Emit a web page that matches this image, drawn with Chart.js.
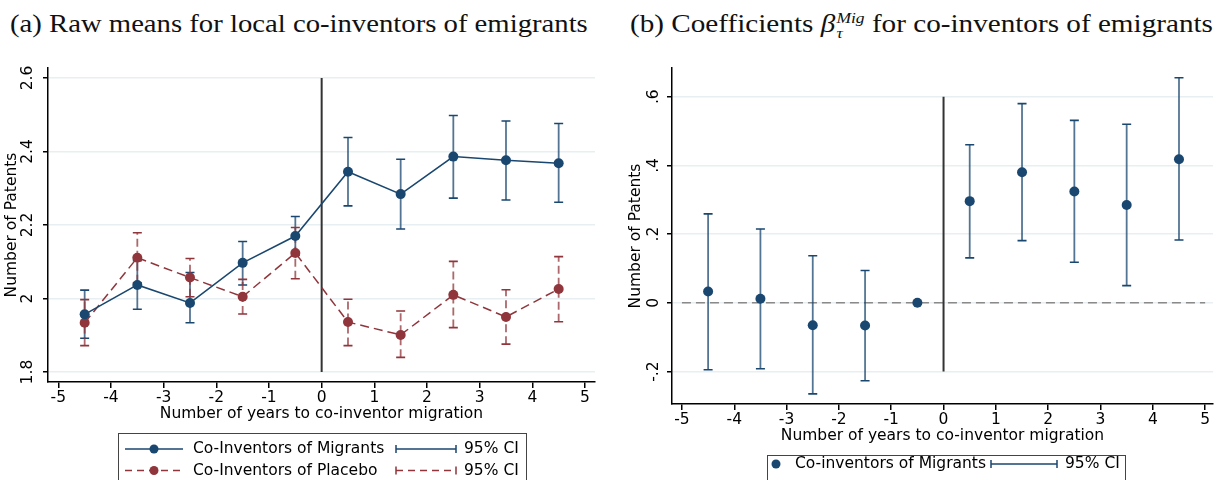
<!DOCTYPE html>
<html lang="en">
  <head>
    <meta charset="UTF-8" />
    <title>Co-inventors of emigrants</title>
    <script src="https://cdn.jsdelivr.net/npm/chart.js"></script>
    <style>
      body { margin: 0; background: #fff; }
      .wrap { position: relative; width: 1218px; height: 480px; overflow: hidden; }
      canvas { position: absolute; top: 0; }
      .ttl {
        position: absolute; top: 11px; white-space: nowrap;
        font-family: "Liberation Serif", serif; font-size: 25px; line-height: 1;
        color: #111; transform-origin: left top;
      }
      .ss { display: inline-flex; flex-direction: column; font-size: 15px; line-height: 15px; vertical-align: 9px; margin-left: 1px; }
    </style>
  </head>
  <body>
    <div class="wrap">
      <div class="ttl" id="ta" style="left:10px">(a) Raw means for local co-inventors of emigrants</div>
      <div class="ttl" id="tb" style="left:630px">(b) Coefficients <i>β</i><span class="ss"><i>Mig</i><i>τ</i></span> for co-inventors of emigrants</div>
      <canvas id="chartA" width="609" height="480" style="left:0"></canvas>
      <canvas id="chartB" width="609" height="480" style="left:609px"></canvas>
    </div>

    <script>
      "use strict";
      // years relative to co-inventor migration
      const years = [-4.5, -3.5, -2.5, -1.5, -0.5, 0.5, 1.5, 2.5, 3.5, 4.5];
      const xTicks = [-5, -4, -3, -2, -1, 0, 1, 2, 3, 4, 5];

      // panel (a): raw means
      const migMean = [1.957, 2.037, 1.988, 2.097, 2.170, 2.345, 2.284, 2.386, 2.376, 2.368];
      const migLo = [1.892, 1.971, 1.934, 2.037, 2.117, 2.252, 2.189, 2.273, 2.268, 2.262];
      const migHi = [2.023, 2.103, 2.071, 2.155, 2.223, 2.438, 2.379, 2.498, 2.483, 2.476];
      const plaMean = [1.934, 2.111, 2.057, 2.005, 2.124, 1.936, 1.901, 2.010, 1.950, 2.026];
      const plaLo = [1.872, 2.043, 2.005, 1.958, 2.054, 1.872, 1.840, 1.921, 1.876, 1.937];
      const plaHi = [1.997, 2.179, 2.109, 2.052, 2.193, 1.998, 1.966, 2.101, 2.024, 2.114];
      const aTicks = [1.8, 2.0, 2.2, 2.4, 2.6];
      const aTickLabels = ["1.8", "2", "2.2", "2.4", "2.6"];

      // panel (b): coefficients (reference year -0.5 has no CI)
      const coefMean = [0.033, 0.012, -0.065, -0.066, 0, 0.296, 0.380, 0.324, 0.285, 0.418];
      const coefLo = [-0.195, -0.192, -0.265, -0.227, null, 0.131, 0.181, 0.118, 0.050, 0.183];
      const coefHi = [0.259, 0.215, 0.137, 0.094, null, 0.460, 0.580, 0.531, 0.520, 0.655];
      const bTicks = [-0.2, 0, 0.2, 0.4, 0.6];
      const bTickLabels = ["-.2", "0", ".2", ".4", ".6"];

      const NAVY = "#1a476f";
      const MAROON = "#90353b";
      const FONT = '15.5px "DejaVu Sans"';
      const XTITLE = "Number of years to co-inventor migration";

      const pts = (xs, ys) => xs.map((v, i) => ({ x: v, y: ys[i] }));

      function makeDecor(cfg) {
        return {
          id: "decor",
          beforeDatasetsDraw(chart) {
            const { ctx, scales: { x, y } } = chart;
            ctx.save();
            // reference line at zero on the y axis (panel b)
            if (cfg.hline !== undefined) {
              ctx.strokeStyle = "#8a8a8a";
              ctx.lineWidth = 1.5;
              ctx.setLineDash([9, 5]);
              ctx.beginPath();
              ctx.moveTo(x.getPixelForValue(xTicks[0]), y.getPixelForValue(cfg.hline));
              ctx.lineTo(x.getPixelForValue(xTicks[xTicks.length - 1]), y.getPixelForValue(cfg.hline));
              ctx.stroke();
            }
            // event line at year 0
            ctx.setLineDash([]);
            ctx.strokeStyle = "#333";
            ctx.lineWidth = 2;
            ctx.beginPath();
            ctx.moveTo(x.getPixelForValue(0), y.getPixelForValue(cfg.yTicks[0]));
            ctx.lineTo(x.getPixelForValue(0), y.getPixelForValue(cfg.yTicks[cfg.yTicks.length - 1]));
            ctx.stroke();
            // confidence intervals
            cfg.ci.forEach((c) => {
              years.forEach((yr, i) => {
                if (c.lo[i] === null) return;
                const px = x.getPixelForValue(yr);
                const p0 = y.getPixelForValue(c.lo[i]);
                const p1 = y.getPixelForValue(c.hi[i]);
                ctx.setLineDash(c.dash);
                ctx.strokeStyle = c.light;
                ctx.lineWidth = 1.8;
                ctx.beginPath();
                ctx.moveTo(px, p0);
                ctx.lineTo(px, p1);
                ctx.stroke();
                ctx.setLineDash([]);
                ctx.strokeStyle = c.color;
                ctx.lineWidth = 1.6;
                ctx.beginPath();
                ctx.moveTo(px - 4.5, p0);
                ctx.lineTo(px + 4.5, p0);
                ctx.moveTo(px - 4.5, p1);
                ctx.lineTo(px + 4.5, p1);
                ctx.stroke();
              });
            });
            ctx.restore();
          },
          afterDraw(chart) {
            const { ctx, chartArea: ca, scales: { x, y } } = chart;
            ctx.save();
            ctx.fillStyle = "#000";
            ctx.font = FONT;
            // y tick labels, rotated like Stata
            cfg.yTicks.forEach((v, i) => {
              ctx.save();
              ctx.translate(ca.left - cfg.yLabOff, y.getPixelForValue(v));
              ctx.rotate(-Math.PI / 2);
              ctx.textAlign = "center";
              ctx.textBaseline = "middle";
              ctx.fillText(cfg.yLabels[i], 0, 0);
              ctx.restore();
            });
            // y title
            ctx.save();
            ctx.translate(ca.left - 36, (ca.top + ca.bottom) / 2);
            ctx.rotate(-Math.PI / 2);
            ctx.textAlign = "center";
            ctx.textBaseline = "middle";
            ctx.fillText("Number of Patents", 0, 0);
            ctx.restore();
            // x tick labels and title
            ctx.textAlign = "center";
            ctx.textBaseline = "middle";
            xTicks.forEach((v) => {
              ctx.fillText(String(v), x.getPixelForValue(v), ca.bottom + 16);
            });
            ctx.fillText(XTITLE, (ca.left + ca.right) / 2, ca.bottom + 32);
            // legend
            const L = cfg.legend;
            ctx.strokeStyle = "#444";
            ctx.lineWidth = 1;
            ctx.strokeRect(L.box[0] + 0.5, L.box[1] + 0.5, L.box[2] - L.box[0], 80);
            L.rows.forEach((r) => {
              ctx.strokeStyle = r.color;
              ctx.fillStyle = r.color;
              ctx.lineWidth = 1.5;
              ctx.setLineDash(r.dash);
              if (r.line) {
                ctx.beginPath();
                ctx.moveTo(r.line[0], r.y);
                ctx.lineTo(r.line[1], r.y);
                ctx.stroke();
              }
              ctx.beginPath();
              ctx.arc(r.marker, r.y, 4.5, 0, Math.PI * 2);
              ctx.fill();
              ctx.beginPath();
              ctx.moveTo(r.ci[0], r.y);
              ctx.lineTo(r.ci[1], r.y);
              ctx.stroke();
              ctx.setLineDash([]);
              ctx.beginPath();
              ctx.moveTo(r.ci[0], r.y - 4);
              ctx.lineTo(r.ci[0], r.y + 4);
              ctx.moveTo(r.ci[1], r.y - 4);
              ctx.lineTo(r.ci[1], r.y + 4);
              ctx.stroke();
              ctx.fillStyle = "#000";
              ctx.textAlign = "left";
              ctx.fillText(r.label, r.text, r.y);
              ctx.fillText("95% CI", r.ci[1] + 8, r.y);
            });
            ctx.restore();
          },
        };
      }

      function scalesFor(xmin, xmax, ymin, ymax, yTicks) {
        return {
          x: {
            type: "linear",
            min: xmin,
            max: xmax,
            afterBuildTicks: (s) => { s.ticks = xTicks.map((v) => ({ value: v })); },
            afterFit: (s) => { s.height = 0; },
            ticks: { display: false },
            grid: { drawOnChartArea: false, color: "#000", tickLength: 6, lineWidth: 1.5 },
            border: { display: true, color: "#000", width: 1.5 },
          },
          y: {
            min: ymin,
            max: ymax,
            afterBuildTicks: (s) => { s.ticks = yTicks.map((v) => ({ value: v })); },
            afterFit: (s) => { s.width = 0; },
            ticks: { display: false },
            grid: { color: "#e8eff2", lineWidth: 1.5, tickColor: "#000", tickWidth: 1.5, tickLength: 5 },
            border: { display: true, color: "#000", width: 1.5 },
          },
        };
      }

      const baseOpts = {
        responsive: false,
        animation: false,
        plugins: { legend: { display: false }, tooltip: { enabled: false } },
      };

      new Chart(document.getElementById("chartA"), {
        type: "scatter",
        data: {
          datasets: [
            {
              data: pts(years, migMean), showLine: true,
              borderColor: NAVY, backgroundColor: NAVY, borderWidth: 1.5,
              pointRadius: 5, pointBorderWidth: 0,
            },
            {
              data: pts(years, plaMean), showLine: true, borderDash: [9, 5],
              borderColor: MAROON, backgroundColor: MAROON, borderWidth: 1.5,
              pointRadius: 5, pointBorderWidth: 0,
            },
          ],
        },
        options: {
          ...baseOpts,
          layout: { padding: { left: 48, right: 14, top: 68, bottom: 98 } },
          scales: scalesFor(-5.196, 5.19, 1.773, 2.627, aTicks),
        },
        plugins: [
          makeDecor({
            yTicks: aTicks, yLabels: aTickLabels, yLabOff: 20.5,
            ci: [
              { lo: migLo, hi: migHi, color: NAVY, light: "rgba(26,71,111,0.75)", dash: [] },
              { lo: plaLo, hi: plaHi, color: MAROON, light: "rgba(144,53,59,0.75)", dash: [8, 4] },
            ],
            legend: {
              box: [118, 433, 526],
              rows: [
                { y: 449, color: NAVY, dash: [], line: [125, 183], marker: 154, text: 193, label: "Co-Inventors of Migrants", ci: [396, 456] },
                { y: 470.5, color: MAROON, dash: [7, 5], line: [125, 183], marker: 154, text: 193, label: "Co-Inventors of Placebo", ci: [396, 456] },
              ],
            },
          }),
        ],
      });

      new Chart(document.getElementById("chartB"), {
        type: "scatter",
        data: {
          datasets: [
            {
              data: pts(years, coefMean), showLine: false,
              borderColor: NAVY, backgroundColor: NAVY,
              pointRadius: 5, pointBorderWidth: 0,
            },
          ],
        },
        options: {
          ...baseOpts,
          layout: { padding: { left: 63, right: 1, top: 68, bottom: 76 } },
          scales: scalesFor(-5.19, 5.15, -0.2945, 0.6836, bTicks),
        },
        plugins: [
          makeDecor({
            yTicks: bTicks, yLabels: bTickLabels, yLabOff: 18, hline: 0,
            ci: [{ lo: coefLo, hi: coefHi, color: NAVY, light: "rgba(26,71,111,0.75)", dash: [] }],
            legend: {
              box: [158, 455, 516],
              rows: [
                { y: 464, color: NAVY, dash: [], line: null, marker: 167, text: 186, label: "Co-inventors of Migrants", ci: [382, 448] },
              ],
            },
          }),
        ],
      });

      // stretch titles to the width they have in the figure
      [["ta", 578], ["tb", 583]].forEach(([id, w]) => {
        const el = document.getElementById(id);
        const cur = el.getBoundingClientRect().width;
        el.style.transform = "scaleX(" + (w / cur).toFixed(3) + ")";
      });
    </script>
  </body>
</html>
